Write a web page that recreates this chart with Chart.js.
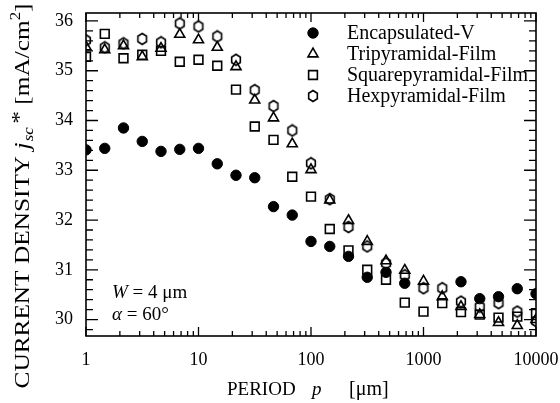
<!DOCTYPE html>
<html><head><meta charset="utf-8">
<script src="https://cdn.jsdelivr.net/npm/chart.js@4/dist/chart.umd.min.js"></script>
<style>html,body{margin:0;padding:0;background:#fff}#c{display:block}</style>
</head><body>
<canvas id="c" width="560" height="403"></canvas>
<script>
// ---- data ----
const periods = [1, 1.468, 2.154, 3.162, 4.642, 6.813, 10, 14.68, 21.54, 31.62, 46.42, 68.13, 100, 146.8, 215.4, 316.2, 464.2, 681.3, 1000, 1468, 2154, 3162, 4642, 6813, 10000];
const encapsulatedV = [33.41, 33.44, 33.85, 33.58, 33.38, 33.42, 33.44, 33.13, 32.90, 32.85, 32.27, 32.10, 31.57, 31.47, 31.27, 30.85, 30.95, 30.73, null, null, 30.76, 30.42, 30.46, 30.62, 30.52];
const tripyramidal = [35.48, 35.42, 35.50, 35.28, 35.45, 35.73, 35.62, 35.47, 35.08, 34.41, 34.05, 33.53, 33.01, 32.40, 31.99, 31.57, 31.18, 30.99, 30.77, 30.46, 30.26, 30.10, 29.94, 29.88, 30.00];
const squarepyramidal = [35.28, 35.74, 35.25, 35.32, 35.40, 35.18, 35.22, 35.10, 34.62, 33.88, 33.61, 32.87, 32.47, 31.82, 31.39, 31.00, 30.80, 30.34, 30.16, 30.33, 30.15, 30.10, 30.04, 30.06, 30.13];
const hexpyramidal = [35.61, 35.47, 35.55, 35.64, 35.57, 35.95, 35.89, 35.69, 35.22, 34.61, 34.29, 33.80, 33.14, 32.42, 31.86, 31.47, 31.13, 30.89, 30.63, 30.63, 30.36, 30.26, 30.33, 30.16, 29.97];
const seriesLabels = ['Encapsulated-V', 'Tripyramidal-Film', 'Squarepyramidal-Film', 'Hexpyramidal-Film'];
const xTickValues = [1, 10, 100, 1000, 10000];
const yTickValues = [30, 31, 32, 33, 34, 35, 36];

const SERIF = "'Liberation Serif', 'Times New Roman', serif";

function pts(vals){ return periods.map((p,i)=>({x:p,y:vals[i]})).filter(d=>d.y!==null); }

// hexagon marker
const hex = document.createElement('canvas');
hex.width = 14; hex.height = 14;
(function(){
  const c = hex.getContext('2d');
  c.strokeStyle = '#000'; c.lineWidth = 1.6;
  c.beginPath();
  for (let i=0;i<6;i++){
    const a = -Math.PI/2 + i*Math.PI/3;
    const x = 7 + 5.0*Math.cos(a), y = 7 + 5.5*Math.sin(a);
    if(i===0) c.moveTo(x,y); else c.lineTo(x,y);
  }
  c.closePath(); c.stroke();
})();

const datasets = [
  {label: seriesLabels[0], data: pts(encapsulatedV), pointStyle:'circle', pointRadius:5.2, backgroundColor:'#000', borderColor:'#000', borderWidth:1},
  {label: seriesLabels[1], data: pts(tripyramidal), pointStyle:'triangle', pointRadius:5.8, backgroundColor:'rgba(0,0,0,0)', borderColor:'#000', borderWidth:1.6},
  {label: seriesLabels[2], data: pts(squarepyramidal), pointStyle:'rect', pointRadius:6.2, backgroundColor:'rgba(0,0,0,0)', borderColor:'#000', borderWidth:1.6},
  {label: seriesLabels[3], data: pts(hexpyramidal), pointStyle: hex, pointRadius:6, backgroundColor:'rgba(0,0,0,0)', borderColor:'#000', borderWidth:1.6},
];
datasets.forEach(d=>{ d.showLine=false; d.pointHoverRadius=d.pointRadius; });

function drawPieces(ctx, pieces, x, y){
  let cx = x;
  for (const p of pieces){
    ctx.font = p.font;
    ctx.fillText(p.t, cx, y + (p.dy||0));
    cx += ctx.measureText(p.t).width + (p.gap||0);
  }
}
function piecesWidth(ctx, pieces){
  let w=0; for(const p of pieces){ ctx.font=p.font; w+=ctx.measureText(p.t).width+(p.gap||0);} return w;
}

const framePlugin = {
  id:'frame',
  afterDraw(chart){
    const ctx = chart.ctx, a = chart.chartArea;
    const xs = chart.scales.x, ys = chart.scales.y;
    ctx.save();
    ctx.strokeStyle='#000'; ctx.lineWidth=1.6;
    ctx.strokeRect(a.left, a.top, a.right-a.left, a.bottom-a.top);
    ctx.lineWidth=1.3;
    ctx.beginPath();
    // x ticks (log)
    for (let dec=1; dec<=10000; dec*=10){
      for (let m=1; m<=9; m++){
        const v = dec*m; if (v>10000) break;
        const px = xs.getPixelForValue(v);
        const L = m===1 ? 9 : 5;
        ctx.moveTo(px, a.bottom); ctx.lineTo(px, a.bottom-L);
        ctx.moveTo(px, a.top); ctx.lineTo(px, a.top+L);
      }
    }
    // y ticks
    for (let k=0; k<=40; k++){
      const v = 29.6 + k*0.2;
      if (v < ys.min-1e-9 || v > ys.max+1e-9) continue;
      const major = Math.abs(v-Math.round(v))<1e-6;
      const py = ys.getPixelForValue(v);
      const L = major ? 12 : 7;
      ctx.moveTo(a.left, py); ctx.lineTo(a.left+L, py);
      ctx.moveTo(a.right, py); ctx.lineTo(a.right-L, py);
    }
    ctx.stroke();

    ctx.textBaseline='alphabetic';
    // legend
    const rows=[33,54,75,96];
    chart.data.datasets.forEach((d,i)=>{
      const y=rows[i];
      ctx.fillStyle=d.backgroundColor; ctx.strokeStyle=d.borderColor; ctx.lineWidth=d.borderWidth;
      Chart.helpers.drawPoint(ctx, {pointStyle:d.pointStyle, radius:d.pointRadius, borderWidth:d.borderWidth, rotation:0}, 313, y);
      ctx.fillStyle='#000';
      ctx.font = '20px '+SERIF;
      ctx.fillText(d.label, 347, y+6);
    });
    ctx.fillStyle='#000';

    // annotations
    const f = '19px '+SERIF, fi = 'italic 19px '+SERIF;
    drawPieces(ctx, [{t:'W',font:fi},{t:' = 4 μm',font:f}], 112, 298);
    drawPieces(ctx, [{t:'α',font:fi},{t:' = 60°',font:f}], 112, 320);

    // x title
    const xf = '19px '+SERIF, xfi='italic 19px '+SERIF;
    drawPieces(ctx, [{t:'PERIOD',font:xf}], 227, 395);
    drawPieces(ctx, [{t:'p',font:xfi}], 312, 395);
    drawPieces(ctx, [{t:'[μm]',font:'20px '+SERIF}], 349, 395);

    // y title (rotated, slightly stretched to match the reference length)
    const yf='21px '+SERIF, yfi='italic 21px '+SERIF, ysm='italic 14px '+SERIF, ysup='14px '+SERIF;
    const yp = [
      {t:'CURRENT DENSITY ',font:yf},
      {t:'j',font:yfi, gap:1},
      {t:'sc',font:ysm, dy:4, gap:3},
      {t:'*',font:yf, dy:-3},
      {t:' [mA/cm',font:yf},
      {t:'2',font:ysup, dy:-9},
      {t:']',font:yf}
    ];
    const yw = piecesWidth(ctx,yp);
    ctx.translate(29, 196);
    ctx.rotate(-Math.PI/2);
    const sx = 385 / yw;
    ctx.scale(sx, 1);
    drawPieces(ctx, yp, -yw/2, 0);
    ctx.restore();
  }
};

new Chart(document.getElementById('c'), {
  type:'scatter',
  data:{datasets},
  options:{
    responsive:false, animation:false, devicePixelRatio:1,
    layout:{padding:{top:13,right:24,bottom:0,left:0}},
    plugins:{legend:{display:false}, tooltip:{enabled:false}},
    scales:{
      x:{
        type:'logarithmic', min:1, max:10000, position:'bottom',
        grid:{display:false, drawTicks:false}, border:{display:false},
        afterBuildTicks:s=>{ s.ticks = xTickValues.map(v=>({value:v})); },
        afterFit:s=>{ s.height = 67; s.paddingLeft = 0; s.paddingRight = 0; },
        ticks:{ color:'#000', font:{family:SERIF, size:18}, padding:13, maxRotation:0, autoSkip:false,
          callback:v=>String(v) }
      },
      y:{
        type:'linear', min:29.67, max:36.16,
        grid:{display:false, drawTicks:false}, border:{display:false},
        afterBuildTicks:s=>{ s.ticks = yTickValues.map(v=>({value:v})); },
        afterFit:s=>{ s.width = 86; s.paddingTop = 0; s.paddingBottom = 0; },
        ticks:{ color:'#000', font:{family:SERIF, size:18}, padding:13, autoSkip:false,
          callback:v=>String(v) }
      }
    }
  },
  plugins:[framePlugin]
});
</script>
</body></html>
